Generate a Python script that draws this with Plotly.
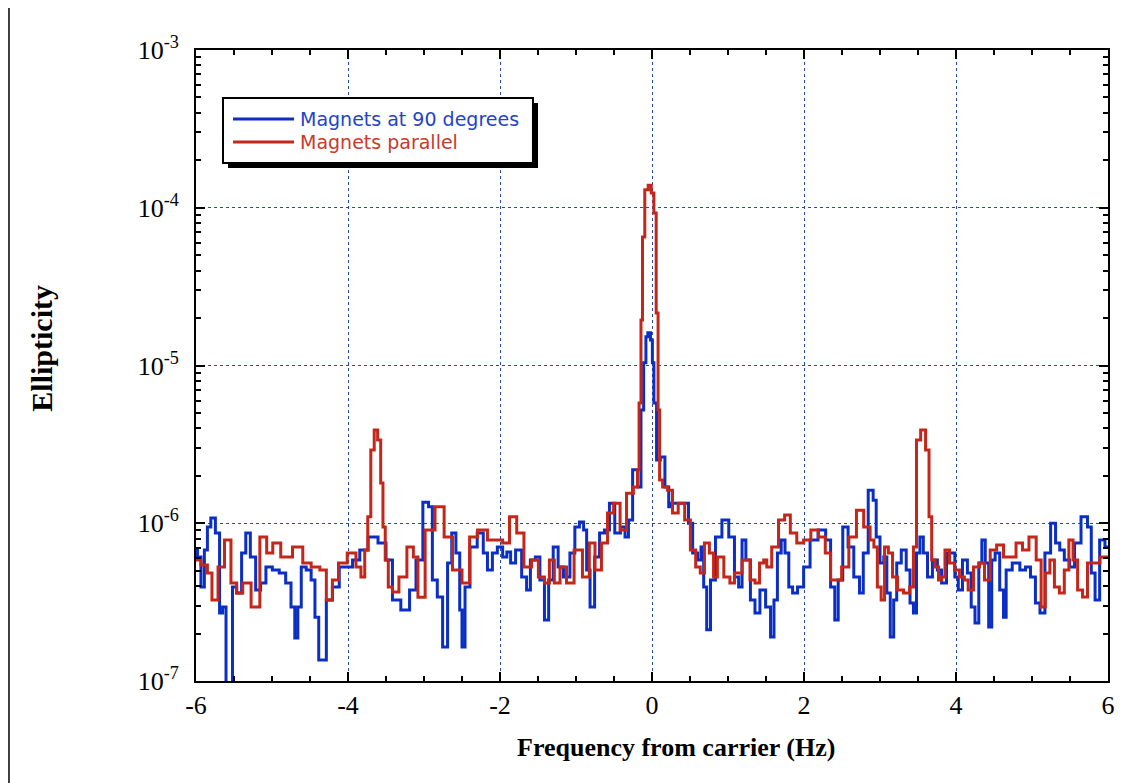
import plotly.graph_objects as go

# ---- data (frequency in Hz, ellipticity) ----
blue_freq = [-6.00, -5.96, -5.91, -5.87, -5.83, -5.78, -5.71, -5.67, -5.63, -5.58, -5.54, -5.50, -5.43, -5.37,
             -5.32, -5.25, -5.18, -5.12, -5.04, -4.95, -4.86, -4.78, -4.72, -4.68, -4.64, -4.59, -4.51, -4.46,
             -4.41, -4.36, -4.32, -4.25, -4.16, -4.07, -3.99, -3.89, -3.80, -3.67, -3.54, -3.46, -3.37, -3.24,
             -3.14, -3.07, -2.96, -2.92, -2.86, -2.79, -2.72, -2.66, -2.61, -2.55, -2.51, -2.49, -2.43, -2.36,
             -2.24, -2.20, -2.13, -2.07, -2.00, -1.93, -1.89, -1.83, -1.76, -1.67, -1.63, -1.57, -1.50, -1.45,
             -1.38, -1.34, -1.26, -1.21, -1.12, -1.04, -0.99, -0.92, -0.88, -0.84, -0.79, -0.72, -0.66, -0.59,
             -0.53, -0.45, -0.38, -0.33, -0.29, -0.22, -0.16, -0.13, -0.09, -0.07, -0.04, 0.00, 0.01, 0.04,
             0.08, 0.14, 0.20, 0.24, 0.26, 0.33, 0.46, 0.50, 0.57, 0.63, 0.66, 0.70, 0.74, 0.80, 0.87, 0.97,
             1.05, 1.12, 1.16, 1.21, 1.26, 1.33, 1.38, 1.46, 1.53, 1.59, 1.62, 1.68, 1.72, 1.78, 1.82, 1.88,
             1.95, 2.04, 2.12, 2.25, 2.32, 2.38, 2.43, 2.47, 2.55, 2.61, 2.70, 2.76, 2.80, 2.89, 2.93, 2.97,
             3.03, 3.07, 3.11, 3.16, 3.20, 3.24, 3.32, 3.37, 3.42, 3.46, 3.50, 3.55, 3.59, 3.66, 3.72, 3.79,
             3.83, 3.92, 3.96, 4.01, 4.05, 4.12, 4.18, 4.22, 4.28, 4.32, 4.36, 4.41, 4.45, 4.49, 4.54, 4.61,
             4.64, 4.68, 4.80, 4.88, 4.95, 5.01, 5.08, 5.13, 5.21, 5.28, 5.34, 5.39, 5.46, 5.53, 5.59, 5.70,
             5.76, 5.80, 5.86, 5.92, 6.00]
blue_ellipticity = [6.77e-7, 6.11e-7, 3.94e-7, 6.77e-7, 9.47e-7, 1.08e-6, 8.68e-7, 2.70e-7, 2.94e-7, 8e-8, 8e-8,
                    3.94e-7, 3.61e-7, 6.48e-7, 8.68e-7, 6.11e-7, 3.77e-7, 4.18e-7, 5.28e-7, 5.06e-7, 4.84e-7,
                    4.18e-7, 2.94e-7, 1.87e-7, 2.94e-7, 5.28e-7, 5.06e-7, 4.37e-7, 2.54e-7, 1.36e-7, 1.36e-7,
                    3.26e-7, 3.94e-7, 5.28e-7, 5.28e-7, 5.85e-7, 6.77e-7, 8.18e-7, 7.49e-7, 5.85e-7, 3.26e-7,
                    2.82e-7, 3.77e-7, 5.85e-7, 1.36e-6, 1.27e-6, 4.37e-7, 3.41e-7, 1.64e-7, 5.60e-7, 8.68e-7,
                    6.48e-7, 2.82e-7, 1.64e-7, 3.94e-7, 7.07e-7, 8.68e-7, 6.48e-7, 5.06e-7, 6.48e-7, 7.07e-7,
                    6.11e-7, 6.57e-7, 5.60e-7, 6.77e-7, 4.56e-7, 3.77e-7, 5.85e-7, 6.11e-7, 4.37e-7, 2.44e-7,
                    4.37e-7, 7.07e-7, 5.28e-7, 4.56e-7, 6.48e-7, 9.47e-7, 1.02e-6, 9.06e-7, 5.06e-7, 2.94e-7,
                    6.11e-7, 8.68e-7, 9.06e-7, 1.34e-6, 8.68e-7, 9.47e-7, 8.18e-7, 1.05e-6, 2.18e-6, 1.70e-6,
                    5.22e-6, 1.04e-5, 1.52e-5, 1.61e-5, 1.45e-5, 1.04e-5, 5.78e-6, 2.52e-6, 2.63e-6, 1.70e-6,
                    1.27e-6, 1.34e-6, 1.34e-6, 1.34e-6, 1.00e-6, 6.48e-7, 5.85e-7, 7.07e-7, 3.94e-7, 2.11e-7,
                    4.37e-7, 8.18e-7, 1.05e-6, 8.18e-7, 4.56e-7, 3.94e-7, 7.83e-7, 5.85e-7, 3.26e-7, 2.70e-7,
                    3.77e-7, 2.94e-7, 1.90e-7, 3.26e-7, 6.48e-7, 7.83e-7, 6.48e-7, 3.94e-7, 3.61e-7, 3.94e-7,
                    5.28e-7, 7.83e-7, 9.06e-7, 7.83e-7, 3.94e-7, 2.44e-7, 4.37e-7, 9.47e-7, 7.07e-7, 4.56e-7,
                    3.61e-7, 6.48e-7, 1.62e-6, 1.40e-6, 8.18e-7, 5.60e-7, 6.11e-7, 3.61e-7, 1.90e-7, 3.26e-7,
                    5.60e-7, 6.77e-7, 5.06e-7, 3.12e-7, 2.70e-7, 6.48e-7, 8.18e-7, 6.48e-7, 4.56e-7, 5.85e-7,
                    5.06e-7, 4.18e-7, 6.48e-7, 6.48e-7, 4.56e-7, 3.77e-7, 5.85e-7, 4.84e-7, 2.94e-7, 2.33e-7,
                    5.60e-7, 7.83e-7, 5.60e-7, 2.20e-7, 5.85e-7, 6.48e-7, 3.77e-7, 2.54e-7, 5.06e-7, 5.60e-7,
                    5.06e-7, 5.28e-7, 4.56e-7, 3.12e-7, 2.70e-7, 6.48e-7, 1.00e-6, 7.49e-7, 6.77e-7, 5.85e-7,
                    5.28e-7, 7.49e-7, 1.10e-6, 9.47e-7, 4.84e-7, 3.26e-7, 7.83e-7, 7.07e-7]

red_freq = [-6.00, -5.87, -5.83, -5.75, -5.67, -5.58, -5.50, -5.43, -5.34, -5.21, -5.11, -5.03, -4.95, -4.82,
            -4.64, -4.55, -4.42, -4.32, -4.25, -4.16, -4.09, -3.93, -3.86, -3.80, -3.76, -3.72, -3.68, -3.63,
            -3.59, -3.55, -3.53, -3.49, -3.45, -3.38, -3.28, -3.17, -3.11, -3.05, -2.92, -2.79, -2.68, -2.57,
            -2.43, -2.37, -2.22, -2.11, -2.00, -1.93, -1.82, -1.74, -1.63, -1.54, -1.45, -1.38, -1.32, -1.25,
            -1.17, -1.08, -0.97, -0.86, -0.79, -0.71, -0.62, -0.55, -0.46, -0.38, -0.29, -0.20, -0.18, -0.16,
            -0.13, -0.12, -0.07, -0.03, 0.01, 0.04, 0.07, 0.09, 0.11, 0.17, 0.24, 0.30, 0.39, 0.47, 0.54, 0.61,
            0.66, 0.72, 0.79, 0.83, 0.89, 1.00, 1.05, 1.12, 1.25, 1.33, 1.38, 1.45, 1.49, 1.53, 1.62, 1.71,
            1.78, 1.86, 1.95, 2.04, 2.14, 2.24, 2.32, 2.38, 2.45, 2.54, 2.64, 2.74, 2.83, 2.91, 2.93, 3.00,
            3.03, 3.09, 3.13, 3.20, 3.26, 3.36, 3.42, 3.46, 3.50, 3.57, 3.63, 3.66, 3.70, 3.75, 3.79, 3.83,
            3.88, 3.95, 4.01, 4.08, 4.14, 4.18, 4.28, 4.34, 4.41, 4.49, 4.58, 4.67, 4.74, 4.84, 4.91, 5.01,
            5.10, 5.14, 5.21, 5.26, 5.33, 5.39, 5.46, 5.51, 5.57, 5.63, 5.70, 5.76, 5.86, 5.93, 6.00]
red_ellipticity = [5.85e-7, 5.44e-7, 4.84e-7, 3.26e-7, 5.28e-7, 7.83e-7, 4.18e-7, 3.61e-7, 4.18e-7, 2.94e-7,
                   8.18e-7, 6.48e-7, 7.49e-7, 6.11e-7, 7.07e-7, 5.60e-7, 5.28e-7, 5.06e-7, 3.26e-7, 4.37e-7,
                   5.60e-7, 6.48e-7, 5.28e-7, 4.56e-7, 6.77e-7, 1.10e-6, 2.91e-6, 3.90e-6, 3.37e-6, 1.80e-6,
                   9.47e-7, 5.85e-7, 3.94e-7, 3.67e-7, 4.56e-7, 7.07e-7, 6.11e-7, 3.40e-7, 9.06e-7, 1.27e-6,
                   8.18e-7, 5.06e-7, 4.18e-7, 8.18e-7, 9.06e-7, 7.83e-7, 7.83e-7, 7.49e-7, 1.10e-6, 8.68e-7,
                   5.28e-7, 5.85e-7, 4.56e-7, 4.18e-7, 5.85e-7, 4.18e-7, 5.28e-7, 4.18e-7, 6.77e-7, 4.56e-7,
                   7.49e-7, 5.06e-7, 7.49e-7, 1.16e-6, 1.34e-6, 9.06e-7, 1.55e-6, 1.70e-6, 2.18e-6, 5.78e-6,
                   1.94e-5, 6.52e-5, 1.30e-4, 1.39e-4, 1.24e-4, 9.26e-5, 2.15e-5, 5.22e-6, 1.88e-6, 1.70e-6,
                   1.62e-6, 1.16e-6, 1.34e-6, 1.05e-6, 6.77e-7, 5.28e-7, 4.84e-7, 7.49e-7, 6.48e-7, 4.56e-7,
                   6.11e-7, 4.56e-7, 4.18e-7, 4.84e-7, 5.85e-7, 4.37e-7, 4.18e-7, 5.60e-7, 5.85e-7, 5.28e-7,
                   7.07e-7, 1.05e-6, 1.13e-6, 8.68e-7, 7.49e-7, 7.83e-7, 9.06e-7, 8.18e-7, 6.48e-7, 4.37e-7,
                   4.37e-7, 5.28e-7, 8.18e-7, 1.21e-6, 9.47e-7, 7.83e-7, 7.07e-7, 3.94e-7, 3.26e-7, 7.07e-7,
                   6.48e-7, 4.56e-7, 3.77e-7, 3.61e-7, 3.94e-7, 7.07e-7, 3.37e-6, 3.90e-6, 2.91e-6, 1.10e-6,
                   5.85e-7, 5.28e-7, 4.37e-7, 4.56e-7, 6.77e-7, 5.60e-7, 5.06e-7, 4.56e-7, 4.37e-7, 3.77e-7,
                   5.28e-7, 5.60e-7, 4.37e-7, 6.77e-7, 7.28e-7, 6.11e-7, 6.11e-7, 7.49e-7, 6.77e-7, 8.18e-7,
                   5.85e-7, 2.94e-7, 4.84e-7, 5.85e-7, 3.94e-7, 3.61e-7, 5.06e-7, 7.83e-7, 5.85e-7, 3.77e-7,
                   3.41e-7, 5.60e-7, 5.60e-7, 6.11e-7, 6.11e-7]

series_names = ["Magnets at 90 degrees", "Magnets parallel"]
x_ticks = [-6, -4, -2, 0, 2, 4, 6]
x_tick_labels = ["-6", "-4", "-2", "0", "2", "4", "6"]
y_ticks = [1e-7, 1e-6, 1e-5, 1e-4, 1e-3]
y_tick_labels = ["10<sup>-7</sup>", "10<sup>-6</sup>", "10<sup>-5</sup>", "10<sup>-4</sup>", "10<sup>-3</sup>"]
y_minor = [m * 10.0 ** e for e in range(-7, -3) for m in range(2, 10)]

BLUE = "#0b2fc4"
RED = "#c4261a"
BLUE_TXT = "#2443c8"
RED_TXT = "#c83a2a"
SERIF = "Liberation Serif, Times New Roman, serif"
SANS = "DejaVu Sans, Verdana, sans-serif"

fig = go.Figure()
fig.add_trace(go.Scatter(x=blue_freq, y=blue_ellipticity, mode="lines", line_shape="hvh",
                         line=dict(color=BLUE, width=3), name=series_names[0]))
fig.add_trace(go.Scatter(x=red_freq, y=red_ellipticity, mode="lines", line_shape="hvh",
                         line=dict(color=RED, width=3), name=series_names[1]))

# white slide panel
fig.add_shape(type="rect", xref="paper", yref="paper", x0=-0.204, x1=1.05, y0=-0.18, y1=1.08,
              fillcolor="white", line=dict(width=0), layer="below")
# legend box with drop shadow
fig.add_shape(type="rect", xref="paper", yref="paper", x0=0.0351, x1=0.375, y0=0.813, y1=0.916,
              fillcolor="black", line=dict(width=0), layer="above")
fig.add_shape(type="rect", xref="paper", yref="paper", x0=0.0296, x1=0.3695, y0=0.8209, y1=0.9239,
              fillcolor="white", line=dict(color="black", width=2), layer="above")
fig.add_shape(type="line", xref="paper", yref="paper", x0=0.0406, x1=0.1075, y0=0.8906, y1=0.8906,
              line=dict(color=BLUE, width=3), layer="above")
fig.add_shape(type="line", xref="paper", yref="paper", x0=0.0406, x1=0.1075, y0=0.8542, y1=0.8542,
              line=dict(color=RED, width=3), layer="above")
fig.add_annotation(xref="paper", yref="paper", x=0.112, y=0.8906, xanchor="left", yanchor="middle",
                   text=series_names[0], showarrow=False,
                   font=dict(family=SANS, size=19, color=BLUE_TXT))
fig.add_annotation(xref="paper", yref="paper", x=0.112, y=0.8542, xanchor="left", yanchor="middle",
                   text=series_names[1], showarrow=False,
                   font=dict(family=SANS, size=19, color=RED_TXT))

# axis titles
fig.add_annotation(xref="paper", yref="paper", x=0.526, y=-0.106, xanchor="center", yanchor="middle",
                   text="<b>Frequency from carrier (Hz)</b>", showarrow=False,
                   font=dict(family=SERIF, size=26, color="black"))
fig.add_annotation(xref="paper", yref="paper", x=-0.169, y=0.528, xanchor="center", yanchor="middle",
                   text="<b>Ellipticity</b>", showarrow=False, textangle=-90,
                   font=dict(family=SERIF, size=30, color="black"))

axis_common = dict(showline=True, linecolor="black", linewidth=2, mirror="ticks",
                   ticks="inside", ticklen=9, tickwidth=2, tickcolor="black",
                   showgrid=True, gridcolor="#2a4aa8", griddash="dot", gridwidth=1,
                   zeroline=False, tickfont=dict(family=SERIF, size=26, color="black"))

fig.update_xaxes(range=[-6, 6], tickvals=x_ticks, ticktext=x_tick_labels,
                 minor=dict(dtick=0.5, tick0=0, ticks="inside", ticklen=5, tickwidth=2,
                            tickcolor="black", showgrid=False),
                 ticklabelstandoff=0, **axis_common)
fig.update_yaxes(type="log", range=[-7, -3], tickvals=y_ticks, ticktext=y_tick_labels,
                 minor=dict(tickmode="array", tickvals=y_minor, ticks="inside", ticklen=5, tickwidth=2,
                            tickcolor="black", showgrid=False),
                 ticklabelstandoff=10, **axis_common)

fig.update_layout(
    width=1131, height=775,
    margin=dict(l=188, r=31, t=42, b=102),
    paper_bgcolor="#3d3d3d", plot_bgcolor="white",
    showlegend=False,
)

fig.write_html("out.html")
